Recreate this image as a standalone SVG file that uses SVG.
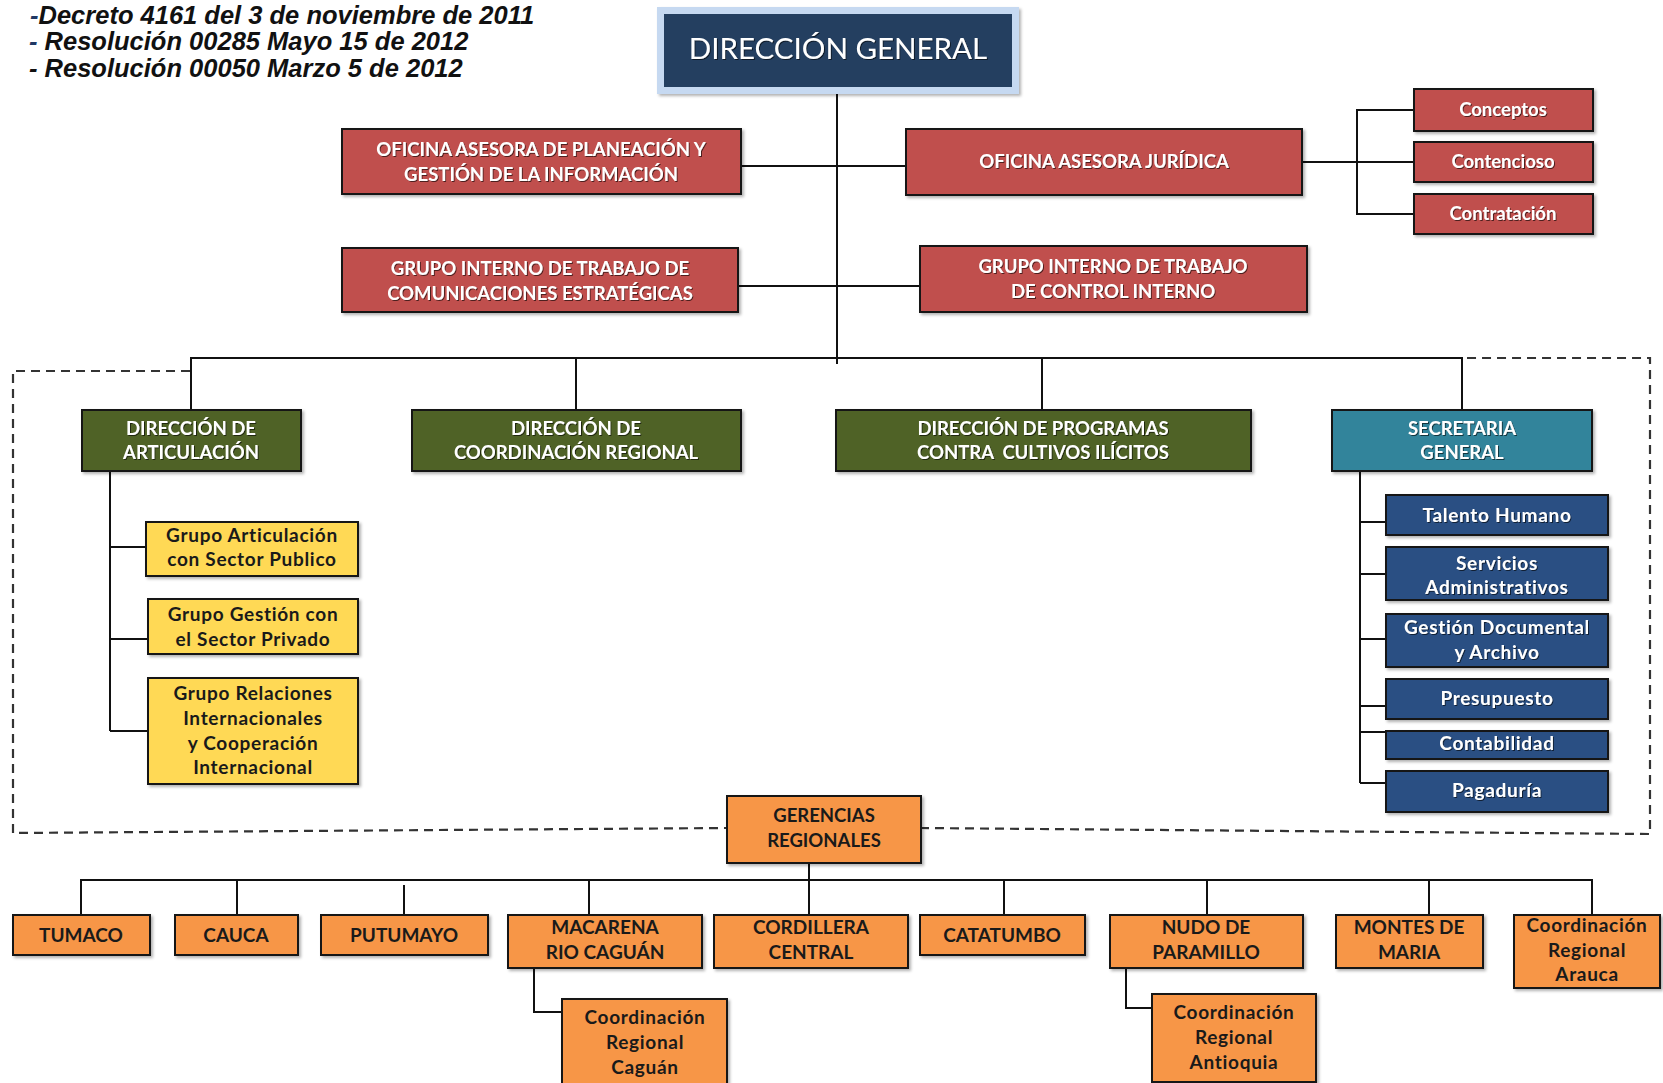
<svg xmlns="http://www.w3.org/2000/svg" width="1663" height="1083" viewBox="0 0 1663 1083">
<defs>
<filter id="sh" x="-10%" y="-10%" width="130%" height="140%"><feDropShadow dx="2" dy="2" stdDeviation="1.5" flood-color="#000" flood-opacity="0.3"/></filter>
<filter id="tsh" x="-5%" y="-20%" width="110%" height="150%"><feDropShadow dx="1" dy="1" stdDeviation="0.6" flood-color="#000" flood-opacity="0.6"/></filter>
<style>
.b{stroke:#151515;stroke-width:2;filter:url(#sh)}
.red{fill:#c0504d}.grn{fill:#4f6228}.tea{fill:#31849b}.blu{fill:#2b5083}.yel{fill:#ffd955}.org{fill:#f79646}
text{font-family:Lato,"Liberation Sans",sans-serif;font-weight:bold;text-anchor:middle}
.w{fill:#fff;filter:url(#tsh)}
.d{fill:#1a1a1a}
.u{font-size:18.5px}
.m{font-size:19px;letter-spacing:0.7px}
.o{font-size:19px}
.c{fill:none;stroke:#111;stroke-width:2}
.dash{fill:none;stroke:#333;stroke-width:2.2;stroke-dasharray:9 6}
.hdr{font-family:"Liberation Sans",Arial,sans-serif;font-style:italic;font-weight:bold;font-size:25.5px;text-anchor:start;fill:#111}
</style>
</defs>
<rect width="1663" height="1083" fill="#fff"/>

<g id="legend">
<text class="hdr" x="30" y="23.5"><tspan fill="#1f3864">-</tspan>Decreto 4161 del 3 de noviembre de 2011</text>
<text class="hdr" x="29" y="50"><tspan fill="#1f3864">-</tspan> Resolución 00285 Mayo 15 de 2012</text>
<text class="hdr" x="29" y="77">- Resolución 00050 Marzo 5 de 2012</text>
</g>

<g id="connectors">
<path class="c" d="M837 94V364M741 166H906M738 286H920"/>
<path class="c" d="M1302 162H1414M1414 110H1357V214H1414"/>
<path class="c" d="M191 410V358H1462V410M576 358V410M1042 358V410"/>
<path class="c" d="M110 471V731M110 547H146M110 639H148M110 731H148"/>
<path class="c" d="M1360 471V783M1360 522H1386M1360 574H1386M1360 639H1386M1360 706H1386M1360 732H1386M1360 783H1386"/>
<path class="c" d="M809 863V915M81 915V880H1592V915M237 880V915M404 885V915M589 880V915M1004 880V915M1207 880V915M1429 880V915"/>
<path class="c" d="M534 968V1012H562M1126 968V1008H1152"/>
<path class="dash" d="M190 371H13V833L727 828M920 828L1650 834V358H1462"/>
</g>

<g id="n-direccion-general">
<rect x="657" y="7" width="362" height="87" fill="#c6d9f1" filter="url(#sh)"/>
<rect x="664" y="14" width="348" height="73" fill="#243f60"/>
<text class="w" x="838" y="59" style="font-size:29.5px;font-weight:normal">DIRECCIÓN GENERAL</text>
</g>

<g id="n-planeacion">
<rect class="b red" x="342" y="129" width="399" height="65"/>
<text class="w u" x="541" y="156">OFICINA ASESORA DE PLANEACIÓN Y</text>
<text class="w u" x="541" y="181">GESTIÓN DE LA INFORMACIÓN</text>
</g>
<g id="n-juridica">
<rect class="b red" x="906" y="129" width="396" height="66"/>
<text class="w u" x="1104" y="168">OFICINA ASESORA JURÍDICA</text>
</g>
<g id="n-conceptos">
<rect class="b red" x="1414" y="89" width="179" height="42"/>
<text class="w u" x="1503" y="116">Conceptos</text>
</g>
<g id="n-contencioso">
<rect class="b red" x="1414" y="142" width="179" height="40"/>
<text class="w u" x="1503" y="168">Contencioso</text>
</g>
<g id="n-contratacion">
<rect class="b red" x="1414" y="194" width="179" height="40"/>
<text class="w u" x="1503" y="220">Contratación</text>
</g>
<g id="n-comunicaciones">
<rect class="b red" x="342" y="248" width="396" height="64"/>
<text class="w u" x="540" y="275">GRUPO INTERNO DE TRABAJO DE</text>
<text class="w u" x="540" y="300">COMUNICACIONES ESTRATÉGICAS</text>
</g>
<g id="n-control-interno">
<rect class="b red" x="920" y="246" width="387" height="66"/>
<text class="w u" x="1113" y="273">GRUPO INTERNO DE TRABAJO</text>
<text class="w u" x="1113" y="298">DE CONTROL INTERNO</text>
</g>

<g id="n-articulacion">
<rect class="b grn" x="82" y="410" width="219" height="61"/>
<text class="w u" x="191" y="435">DIRECCIÓN DE</text>
<text class="w u" x="191" y="459">ARTICULACIÓN</text>
</g>
<g id="n-coordinacion-regional">
<rect class="b grn" x="412" y="410" width="329" height="61"/>
<text class="w u" x="576" y="435">DIRECCIÓN DE</text>
<text class="w u" x="576" y="459">COORDINACIÓN REGIONAL</text>
</g>
<g id="n-programas">
<rect class="b grn" x="836" y="410" width="415" height="61"/>
<text class="w u" x="1043" y="435">DIRECCIÓN DE PROGRAMAS</text>
<text class="w u" x="1043" y="459" xml:space="preserve">CONTRA  CULTIVOS ILÍCITOS</text>
</g>
<g id="n-secretaria">
<rect class="b tea" x="1332" y="410" width="260" height="61"/>
<text class="w u" x="1462" y="435">SECRETARIA</text>
<text class="w u" x="1462" y="459">GENERAL</text>
</g>

<g id="n-sector-publico">
<rect class="b yel" x="146" y="522" width="212" height="54"/>
<text class="d m" x="252" y="542">Grupo Articulación</text>
<text class="d m" x="252" y="566">con Sector Publico</text>
</g>
<g id="n-sector-privado">
<rect class="b yel" x="148" y="599" width="210" height="55"/>
<text class="d m" x="253" y="621">Grupo Gestión con</text>
<text class="d m" x="253" y="646">el Sector Privado</text>
</g>
<g id="n-relaciones">
<rect class="b yel" x="148" y="678" width="210" height="106"/>
<text class="d m" x="253" y="700">Grupo Relaciones</text>
<text class="d m" x="253" y="725">Internacionales</text>
<text class="d m" x="253" y="750">y Cooperación</text>
<text class="d m" x="253" y="774">Internacional</text>
</g>

<g id="n-talento">
<rect class="b blu" x="1386" y="495" width="222" height="40"/>
<text class="w m" x="1497" y="522">Talento Humano</text>
</g>
<g id="n-servicios">
<rect class="b blu" x="1386" y="547" width="222" height="53"/>
<text class="w m" x="1497" y="570">Servicios</text>
<text class="w m" x="1497" y="594">Administrativos</text>
</g>
<g id="n-gestion-documental">
<rect class="b blu" x="1386" y="614" width="222" height="53"/>
<text class="w m" x="1497" y="634">Gestión Documental</text>
<text class="w m" x="1497" y="659">y Archivo</text>
</g>
<g id="n-presupuesto">
<rect class="b blu" x="1386" y="679" width="222" height="40"/>
<text class="w m" x="1497" y="705">Presupuesto</text>
</g>
<g id="n-contabilidad">
<rect class="b blu" x="1386" y="731" width="222" height="28"/>
<text class="w m" x="1497" y="750">Contabilidad</text>
</g>
<g id="n-pagaduria">
<rect class="b blu" x="1386" y="771" width="222" height="41"/>
<text class="w m" x="1497" y="797">Pagaduría</text>
</g>

<g id="n-gerencias">
<rect class="b org" x="727" y="796" width="194" height="67"/>
<text class="d u" x="824" y="822">GERENCIAS</text>
<text class="d u" x="824" y="847">REGIONALES</text>
</g>
<g id="n-tumaco">
<rect class="b org" x="13" y="915" width="137" height="40"/>
<text class="d o" x="81" y="942">TUMACO</text>
</g>
<g id="n-cauca">
<rect class="b org" x="175" y="915" width="123" height="40"/>
<text class="d o" x="236" y="942">CAUCA</text>
</g>
<g id="n-putumayo">
<rect class="b org" x="321" y="915" width="167" height="40"/>
<text class="d o" x="404" y="942">PUTUMAYO</text>
</g>
<g id="n-macarena">
<rect class="b org" x="508" y="915" width="194" height="53"/>
<text class="d o" x="605" y="934">MACARENA</text>
<text class="d o" x="605" y="959">RIO CAGUÁN</text>
</g>
<g id="n-cordillera">
<rect class="b org" x="714" y="915" width="194" height="53"/>
<text class="d o" x="811" y="934">CORDILLERA</text>
<text class="d o" x="811" y="959">CENTRAL</text>
</g>
<g id="n-catatumbo">
<rect class="b org" x="920" y="915" width="165" height="40"/>
<text class="d o" x="1002" y="942">CATATUMBO</text>
</g>
<g id="n-nudo">
<rect class="b org" x="1110" y="915" width="193" height="53"/>
<text class="d o" x="1206" y="934">NUDO DE</text>
<text class="d o" x="1206" y="959">PARAMILLO</text>
</g>
<g id="n-montes">
<rect class="b org" x="1336" y="915" width="147" height="53"/>
<text class="d o" x="1409" y="934">MONTES DE</text>
<text class="d o" x="1409" y="959">MARIA</text>
</g>
<g id="n-arauca">
<rect class="b org" x="1514" y="915" width="146" height="73"/>
<text class="d m" x="1587" y="932">Coordinación</text>
<text class="d m" x="1587" y="957">Regional</text>
<text class="d m" x="1587" y="981">Arauca</text>
</g>
<g id="n-caguan">
<rect class="b org" x="562" y="999" width="165" height="92"/>
<text class="d m" x="645" y="1024">Coordinación</text>
<text class="d m" x="645" y="1049">Regional</text>
<text class="d m" x="645" y="1074">Caguán</text>
</g>
<g id="n-antioquia">
<rect class="b org" x="1152" y="994" width="164" height="88"/>
<text class="d m" x="1234" y="1019">Coordinación</text>
<text class="d m" x="1234" y="1044">Regional</text>
<text class="d m" x="1234" y="1069">Antioquia</text>
</g>
</svg>
